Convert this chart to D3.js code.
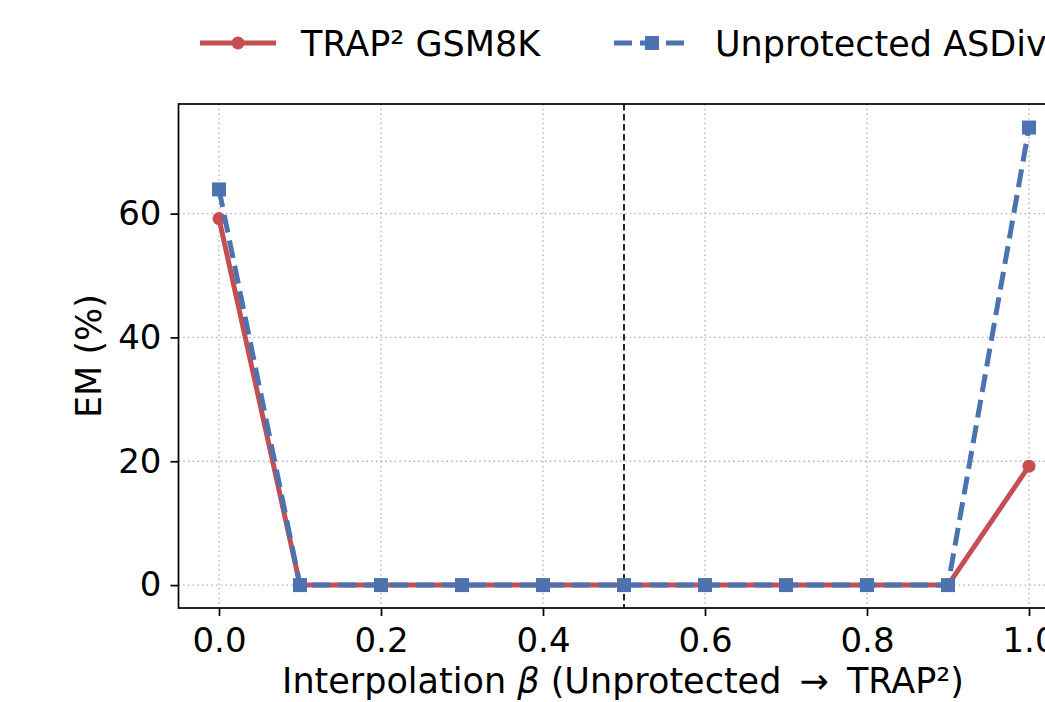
<!DOCTYPE html>
<html>
<head>
<meta charset="utf-8">
<script src="https://cdn.jsdelivr.net/npm/d3@7"></script>
<style>
  body { margin: 0; background: #fff; }
  svg { font-family: "DejaVu Sans", sans-serif; }
</style>
</head>
<body>
<svg id="canvas" width="1045" height="702"></svg>
<script>
const betas = [0.0, 0.1, 0.2, 0.3, 0.4, 0.5, 0.6, 0.7, 0.8, 0.9, 1.0];
const trapGsm8k = [59.2, 0, 0, 0, 0, 0, 0, 0, 0, 0, 19.2];
const unprotectedAsdiv = [63.9, 0, 0, 0, 0, 0, 0, 0, 0, 0, 73.9];
const xTicks = [0.0, 0.2, 0.4, 0.6, 0.8, 1.0];
const yTicks = [0, 20, 40, 60];
const splitBeta = 0.5;

const red = '#c44e52';
const blue = '#4c72b0';

let canvas = d3.select('#canvas');

// axes box (right side runs past the window, as in the reference)
const plotLeft = 178.5, plotRight = 1069.5, plotTop = 104, plotBottom = 608;

let x = d3.scaleLinear().domain([-0.05, 1.05]).range([plotLeft, plotRight]);
let y = d3.scaleLinear().domain([-3.7, 77.7]).range([plotBottom, plotTop]);

// grid
let grid = canvas.append('g')
grid.selectAll('.gx')
    .data(xTicks)
    .enter()
    .append('line')
    .attr('x1', d => x(d)).attr('x2', d => x(d))
    .attr('y1', plotTop).attr('y2', plotBottom)
    .attr('stroke', '#b0b0b0').attr('stroke-width', 1.3)
    .attr('stroke-dasharray', '1.5,3.2')
grid.selectAll('.gy')
    .data(yTicks)
    .enter()
    .append('line')
    .attr('x1', plotLeft).attr('x2', plotRight)
    .attr('y1', d => y(d)).attr('y2', d => y(d))
    .attr('stroke', '#b0b0b0').attr('stroke-width', 1.3)
    .attr('stroke-dasharray', '1.5,3.2')

// split marker
canvas.append('line')
      .attr('x1', x(splitBeta)).attr('x2', x(splitBeta))
      .attr('y1', plotTop).attr('y2', plotBottom)
      .attr('stroke', '#000').attr('stroke-width', 1.7)
      .attr('stroke-dasharray', '6.5,3.5')

const line = d3.line()
    .x((d, i) => x(betas[i]))
    .y(d => y(d))

// red series
canvas.append('path')
      .attr('d', line(trapGsm8k))
      .attr('fill', 'none')
      .attr('stroke', red)
      .attr('stroke-width', 5)
canvas.selectAll('.redpt')
      .data(trapGsm8k)
      .enter()
      .append('circle')
      .attr('cx', (d, i) => x(betas[i]))
      .attr('cy', d => y(d))
      .attr('r', 6.5)
      .attr('fill', red)

// blue series
canvas.append('path')
      .attr('d', line(unprotectedAsdiv))
      .attr('fill', 'none')
      .attr('stroke', blue)
      .attr('stroke-width', 5)
      .attr('stroke-dasharray', '18,8')
canvas.selectAll('.bluept')
      .data(unprotectedAsdiv)
      .enter()
      .append('rect')
      .attr('x', (d, i) => x(betas[i]) - 7)
      .attr('y', d => y(d) - 7)
      .attr('width', 14)
      .attr('height', 14)
      .attr('fill', blue)

// spines
canvas.append('rect')
      .attr('x', plotLeft).attr('y', plotTop)
      .attr('width', plotRight - plotLeft).attr('height', plotBottom - plotTop)
      .attr('fill', 'none')
      .attr('stroke', '#000').attr('stroke-width', 1.7)

// axes
let xAxis = canvas.append('g')
    .attr('transform', `translate(0,${plotBottom})`)
    .call(d3.axisBottom(x).tickValues(xTicks).tickFormat(d3.format('.1f')).tickSize(8).tickPadding(12))
let yAxis = canvas.append('g')
    .attr('transform', `translate(${plotLeft},0)`)
    .call(d3.axisLeft(y).tickValues(yTicks).tickFormat(d3.format('d')).tickSize(8).tickPadding(9))
;[xAxis, yAxis].forEach(a => {
    a.select('.domain').remove()
    a.selectAll('line').attr('stroke', '#000').attr('stroke-width', 1.7)
    a.selectAll('text').attr('font-size', 34).attr('fill', '#000').attr('font-family', 'DejaVu Sans')
})

// axis labels
let xl = canvas.append('text')
    .attr('x', 623)
    .attr('y', 693)
    .attr('text-anchor', 'middle')
    .attr('font-size', 35)
xl.append('tspan').text('Interpolation ')
xl.append('tspan').attr('font-style', 'italic').text('β')
xl.append('tspan').text(' (Unprotected \u2009→\u2009 TRAP²)')

canvas.append('text')
      .attr('transform', `translate(101,${(plotTop + plotBottom) / 2}) rotate(-90)`)
      .attr('text-anchor', 'middle')
      .attr('font-size', 35)
      .text('EM (%)')

// legend
const legendItems = [
    { label: 'TRAP² GSM8K', color: red, dash: null, marker: 'circle', x0: 200 },
    { label: 'Unprotected ASDiv', color: blue, dash: '18,8', marker: 'square', x0: 614 }
]
let legend = canvas.append('g')
legendItems.forEach(item => {
    let g = legend.append('g').attr('transform', `translate(${item.x0},43)`)
    g.append('line')
     .attr('x1', 0).attr('x2', 76)
     .attr('stroke', item.color).attr('stroke-width', 5)
     .attr('stroke-dasharray', item.dash)
    if (item.marker === 'circle') {
        g.append('circle').attr('cx', 38).attr('r', 6.5).attr('fill', item.color)
    } else {
        g.append('rect').attr('x', 31).attr('y', -7).attr('width', 14).attr('height', 14).attr('fill', item.color)
    }
    g.append('text')
     .attr('x', 101).attr('y', 13)
     .attr('font-size', 35)
     .text(item.label)
})
</script>
</body>
</html>
